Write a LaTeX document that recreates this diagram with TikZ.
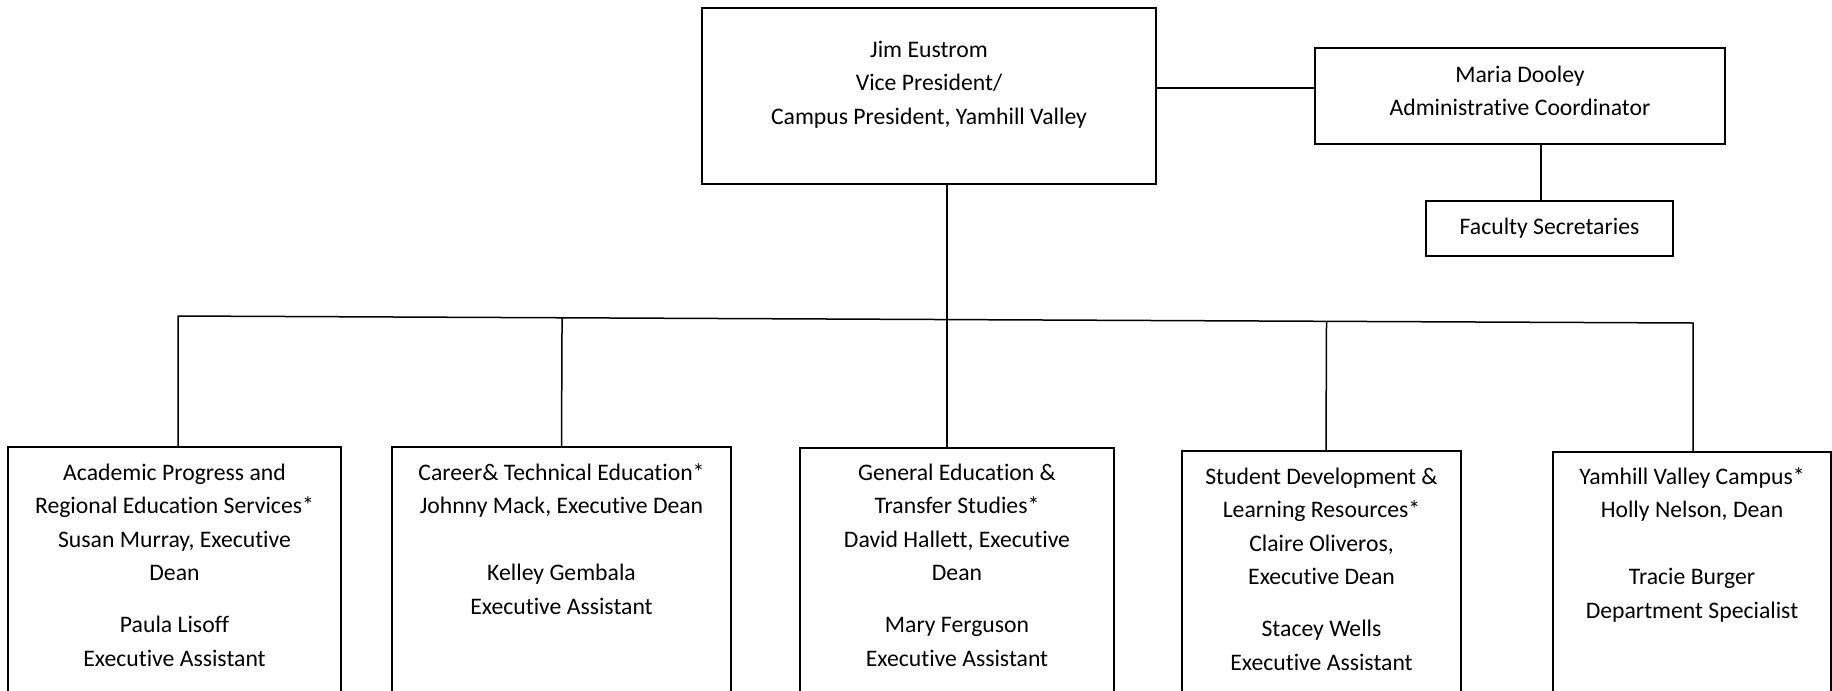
\documentclass[tikz,border=0pt]{standalone}
\usepackage{fontspec}
\setmainfont{Carlito}[Ligatures={NoCommon,NoContextual,NoRequired}]
\usetikzlibrary{calc}

\tikzset{
  orgbox/.style={draw,line width=0.9pt,anchor=north,inner sep=0pt},
  orgtext/.style={anchor=north,align=center,inner sep=0pt,font=\fontsize{11.85}{16.75}\selectfont},
  link/.style={line width=0.75pt}
}

\begin{document}
\begin{tikzpicture}[x=0.5pt,y=-0.5pt]
  \useasboundingbox (0,0) rectangle (1832,691);

  \node[orgbox,minimum width=227pt,minimum height=88pt] (vp) at (929,7) {};
  \node[orgtext] (vp text) at ($(vp.north)+(0,26.5)$) {\strut Jim Eustrom\\Vice President/\\Campus President, Yamhill Valley};

  \node[orgbox,minimum width=205pt,minimum height=48pt] (maria) at (1520,47) {};
  \node[orgtext] (maria text) at ($(maria.north)+(0,11.5)$) {\strut Maria Dooley\\Administrative Coordinator};

  \node[orgbox,anchor=center,minimum width=123.5pt,minimum height=27.5pt,font=\fontsize{11.85}{16.75}\selectfont] (fs) at (1549.5,228.5) {Faculty Secretaries};

  \node[orgbox,minimum width=166.5pt,minimum height=127pt] (aprs) at (174.5,446) {};
  \node[orgtext] (aprs text) at ($(aprs.north)+(0,10.5)$) {\strut Academic Progress and\\Regional Education Services*\\Susan Murray, Executive\\Dean\\[9.25pt]Paula Lisoff\\Executive Assistant};

  \node[orgbox,minimum width=169.5pt,minimum height=127pt] (cte) at (561.5,446) {};
  \node[orgtext] (cte text) at ($(cte.north)+(0,10.5)$) {\strut Career\& Technical Education*\\Johnny Mack, Executive Dean\\[16.75pt]Kelley Gembala\\Executive Assistant};

  \node[orgbox,minimum width=157pt,minimum height=126.5pt] (ges) at (957,447) {};
  \node[orgtext] (ges text) at ($(ges.north)+(0,9.5)$) {\strut General Education \&\\Transfer Studies*\\David Hallett, Executive\\Dean\\[9.25pt]Mary Ferguson\\Executive Assistant};

  \node[orgbox,minimum width=139.5pt,minimum height=125pt] (sdl) at (1321.5,450) {};
  \node[orgtext] (sdl text) at ($(sdl.north)+(0,10.5)$) {\strut Student Development \&\\Learning Resources*\\Claire Oliveros,\\Executive Dean\\[9.25pt]Stacey Wells\\Executive Assistant};

  \node[orgbox,minimum width=139pt,minimum height=124.5pt] (yvc) at (1692,451) {};
  \node[orgtext] (yvc text) at ($(yvc.north)+(0,9.5)$) {\strut Yamhill Valley Campus*\\Holly Nelson, Dean\\[16.75pt]Tracie Burger\\Department Specialist};

  \draw[link] ([yshift=4pt]vp.east) -- ([yshift=4pt]maria.west);
  \draw[link] ([xshift=-4.25pt]fs.north) -- ([xshift=-4.25pt]fs.north |- maria.south);

  \coordinate (busL) at (178,316);
  \coordinate (busR) at (1693,323);
  \draw[link] (aprs.north -| busL) -- (busL) -- (busR) -- (yvc.north -| busR);
  \draw[link] ([xshift=9pt]vp.south) -- ([xshift=9pt]vp.south |- ges.north);
  \draw[link] ($(busL)!(cte.north)!(busR)$) -- (cte.north);
  \draw[link] ($(busL)!([xshift=2.25pt]sdl.north)!(busR)$) -- ([xshift=2.25pt]sdl.north);
\end{tikzpicture}
\end{document}
